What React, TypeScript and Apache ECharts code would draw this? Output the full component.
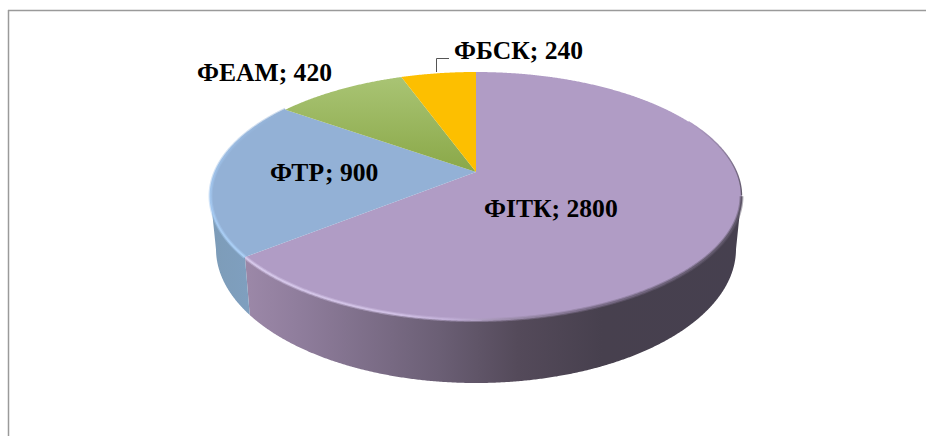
import React, { useEffect, useRef } from "react";
import * as echarts from "echarts";

const categories = ["ФІТК", "ФТР", "ФЕАМ", "ФБСК"];
const values = [2800, 900, 420, 240];

// Layout and style (not data)
const FONT = 'bold 25.6px "Liberation Serif"';
const LABEL_POS = [
  [484, 208],
  [270, 172],
  [197, 72],
  [454, 50],
];
const TOP_FILL = [
  "#b09cc5",
  "#93b1d6",
  new echarts.graphic.LinearGradient(0, 0, 0, 1, [
    { offset: 0, color: "#a9c474" },
    { offset: 1, color: "#8aa848" },
  ]),
  "#fdbf00",
];
const SIDE_FILL = [
  new echarts.graphic.LinearGradient(0, 0, 1, 0, [
    { offset: 0, color: "#9c88a8" },
    { offset: 0.11, color: "#8f7d9c" },
    { offset: 0.39, color: "#6b5f75" },
    { offset: 0.55, color: "#544a5a" },
    { offset: 0.72, color: "#47404e" },
    { offset: 1, color: "#46404f" },
  ]),
  new echarts.graphic.LinearGradient(0, 0, 1, 0, [
    { offset: 0, color: "#7d9cb8" },
    { offset: 1, color: "#7f9fbf" },
  ]),
  "#7a9440",
  "#c09000",
];
const EDGE_STROKE = [
  new echarts.graphic.LinearGradient(0, 0, 1, 0, [
    { offset: 0, color: "#d6c8ea" },
    { offset: 0.3, color: "#d0c0e4" },
    { offset: 0.42, color: "#c0aed6" },
    { offset: 0.52, color: "#a090b0" },
    { offset: 0.7, color: "#7a6c88" },
    { offset: 1, color: "#5e5668" },
  ]),
  new echarts.graphic.LinearGradient(0, 0, 0, 1, [
    { offset: 0, color: "#93b1d6" },
    { offset: 0.6, color: "#a2c6ee" },
    { offset: 1, color: "#acd0f6" },
  ]),
  null,
  null,
];
const RIGHT_RIM = new echarts.graphic.LinearGradient(0, 0, 0, 1, [
  { offset: 0, color: "#b09cc5" },
  { offset: 1, color: "#5e5668" },
]);

const CX = 476;
const TOP = { cy: 196, rx: 265.5, ry: 124 };
const BOTTOM = { cy: 249, rx: 260, ry: 134 };
const K = 0.194; // perspective shift of the pie's centre
const total = values.reduce((a, b) => a + b, 0);

// true pie angle (clockwise from 12 o'clock) -> normalised point of the perspective ellipse
function warp(theta: number) {
  const x = Math.sin(theta);
  const y = Math.cos(theta);
  const d = 1 + K * y;
  return [(x * Math.sqrt(1 - K * K)) / d, (y + K) / d];
}
const onEll = (p: number[], e: { cy: number; rx: number; ry: number }) => [
  CX + e.rx * p[0],
  e.cy - e.ry * p[1],
];

function renderItem(params: any, api: any) {
  const i = params.dataIndex;
  let before = 0;
  for (let j = 0; j < i; j++) before += values[j];
  const start = (before / total) * Math.PI * 2;
  const end = ((before + api.value(0)) / total) * Math.PI * 2;
  const steps = Math.max(8, Math.ceil((end - start) / 0.005));
  const arc: number[][] = [];
  for (let s = 0; s <= steps; s++) arc.push(warp(start + ((end - start) * s) / steps));
  const front = arc.filter((p) => p[1] <= 0);
  const children: any[] = [];
  if (front.length > 1) {
    children.push({
      type: "polygon",
      shape: {
        points: [
          ...front.map((p) => onEll(p, TOP)),
          ...front.slice().reverse().map((p) => onEll(p, BOTTOM)),
        ],
      },
      style: { fill: SIDE_FILL[i] },
    });
  }
  const apex = onEll([0, K], TOP);
  children.push({
    type: "polygon",
    shape: { points: [apex, ...arc.map((p) => onEll(p, TOP))] },
    style: { fill: TOP_FILL[i] },
  });
  if (EDGE_STROKE[i]) {
    const edge = i === 0 ? front : arc;
    const points = edge.map((p) => onEll(p, TOP));
    children.push({
      type: "polyline",
      shape: { points },
      style: { fill: "none", stroke: EDGE_STROKE[i], lineWidth: 4, opacity: 0.45 },
    });
    children.push({
      type: "polyline",
      shape: { points },
      style: { fill: "none", stroke: EDGE_STROKE[i], lineWidth: 1.8 },
    });
  }
  if (i === 0) {
    // thin rim fading in on the upper right-hand side
    const rim = arc.filter((p) => p[1] >= 0 && p[0] > 0.8).map((p) => onEll(p, TOP));
    children.push({
      type: "polyline",
      shape: { points: rim },
      style: { fill: "none", stroke: RIGHT_RIM, lineWidth: 1.4 },
    });
  }
  children.push({
    type: "text",
    style: {
      text: `${categories[i]}; ${api.value(0)}`,
      x: LABEL_POS[i][0],
      y: LABEL_POS[i][1],
      font: FONT,
      fill: "#000",
      textAlign: "left",
      textVerticalAlign: "middle",
    },
  });
  return { type: "group", children };
}

export default function App() {
  const ref = useRef<HTMLDivElement>(null);
  useEffect(() => {
    const chart = echarts.init(ref.current!, null, { renderer: "svg" });
    chart.setOption({
      animation: false,
      backgroundColor: "#fff",
      graphic: [
        { type: "line", shape: { x1: 8, y1: 10.5, x2: 926, y2: 10.5 }, style: { stroke: "#9a9a9a", lineWidth: 1.5 } },
        { type: "line", shape: { x1: 8.5, y1: 10, x2: 8.5, y2: 436 }, style: { stroke: "#9a9a9a", lineWidth: 1.5 } },
        { type: "polyline", shape: { points: [[436.5, 72], [436.5, 58.5], [449, 58.5]] }, style: { fill: "none", stroke: "#555", lineWidth: 1 } },
      ],
      series: [
        {
          type: "custom",
          coordinateSystem: "none",
          silent: true,
          renderItem,
          data: values.map((v, i) => ({ name: categories[i], value: [v] })),
        },
      ],
    });
    return () => chart.dispose();
  }, []);
  return <div ref={ref} style={{ position: "absolute", left: 0, top: 0, width: 926, height: 436 }} />;
}
